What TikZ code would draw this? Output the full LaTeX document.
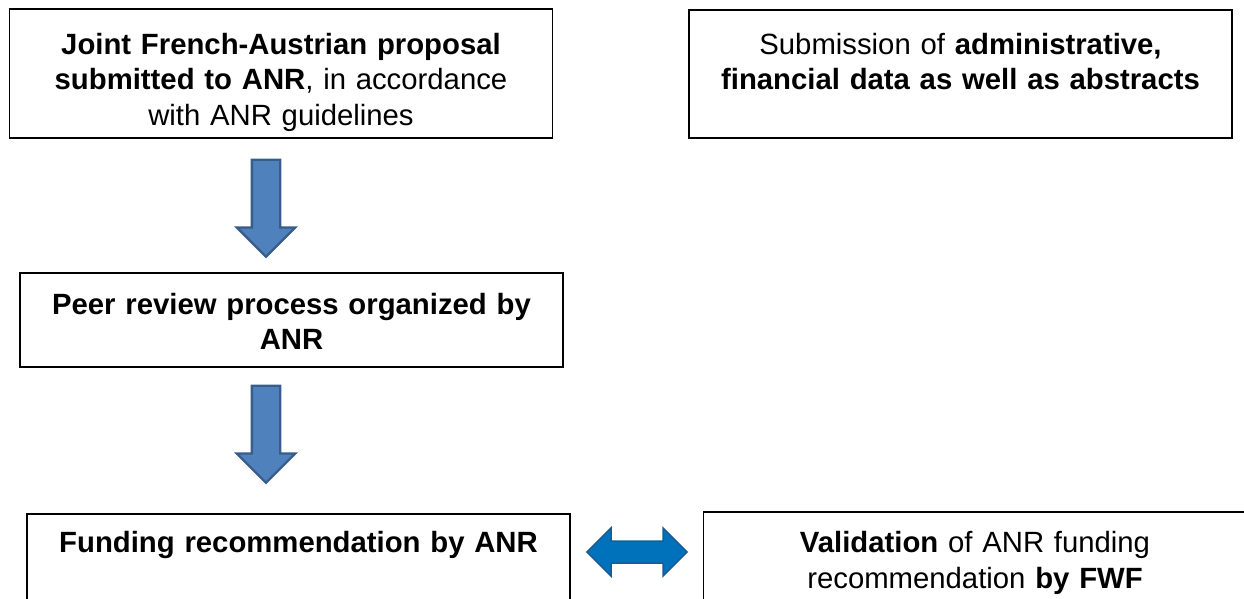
\documentclass[tikz,border=0pt]{standalone}
\usepackage{fontspec}
\setmainfont{Liberation Sans}
\usetikzlibrary{shapes.arrows}
\usepackage{xcolor}

\definecolor{arrowfill}{RGB}{79,129,189}
\definecolor{arrowline}{RGB}{56,93,138}
\definecolor{swapfill}{RGB}{0,114,188}
\definecolor{swapline}{RGB}{24,92,150}

% struts that fix where the text sits in a box
\newcommand\padtop[1]{\rule{0pt}{#1}}
\newcommand\padbot[1]{\rule[-#1]{0pt}{#1}}

\begin{document}
\begin{tikzpicture}[x=1pt, y=-1pt,
  box/.style={draw=black, line width=1.6pt, anchor=north, inner sep=0pt,
    text width=543pt, align=center, font=\fontsize{29.3}{35.5}\selectfont},
  downarrow/.style={single arrow, draw=arrowline, fill=arrowfill, line width=2.4pt,
    rotate=-90, anchor=tail, minimum height=97pt, inner xsep=0pt, inner ysep=13pt,
    single arrow head extend=15pt},
  swaparrow/.style={double arrow, draw=swapline, fill=swapfill, line width=1.5pt,
    minimum height=100pt, inner xsep=0pt, inner ysep=10.25pt,
    double arrow head extend=13pt}]

  \useasboundingbox (0,0) rectangle (1244,599);
  \clip (0,0) rectangle (1244,599);

  \node[box] (proposal) at (281,8) {\padtop{45.5pt}\textbf{Joint French-Austrian proposal}\\ \textbf{submitted to ANR}, in accordance\\ with ANR guidelines\padbot{12.5pt}};
  \node[box] (admin) at (960.5,9) {\padtop{44.5pt}Submission of \textbf{administrative,}\\ \textbf{financial data as well as abstracts}\padbot{48pt}};
  \node[box] (review) at (291.5,272) {\padtop{41.5pt}\textbf{Peer review process organized by}\\ \textbf{ANR}\padbot{17pt}};
  \node[box] (funding) at (298.5,513) {\padtop{39pt}\textbf{Funding recommendation by ANR}\padbot{68pt}};
  \node[box] (validation) at (975,511) {\padtop{41pt}\textbf{Validation} of ANR funding\\ recommendation \textbf{by FWF}\padbot{32.5pt}};

  % block arrows
  \node[downarrow] (step1) at (266,158.5) {};
  \node[downarrow] (step2) at (266,384.5) {};
  \node[swaparrow] (exchange) at (637,552) {};
\end{tikzpicture}
\end{document}
